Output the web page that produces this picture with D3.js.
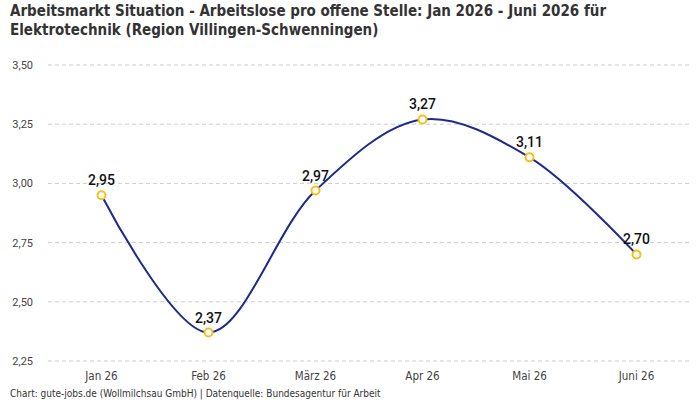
<!DOCTYPE html>
<html>
<head>
<meta charset="utf-8">
<script src="https://cdn.jsdelivr.net/npm/d3@7"></script>
<style>
  body { margin: 0; background: #fff; }
  svg { display: block; }
  .title { font-family: "DejaVu Sans Condensed", sans-serif; font-weight: bold; font-size: 15px; fill: #333; }
  .cond { font-family: "DejaVu Sans Condensed", sans-serif; }
</style>
</head>
<body>
<svg id="chart" width="700" height="400"></svg>
<script>
const months = ["Jan 26", "Feb 26", "März 26", "Apr 26", "Mai 26", "Juni 26"];
const values = [2.95, 2.37, 2.97, 3.27, 3.11, 2.70];
const yTicks = [2.25, 2.5, 2.75, 3.0, 3.25, 3.5];

const svg = d3.select("#chart");
const fmt = (v) => d3.format(".2f")(v).replace(".", ",");

svg.append("text").attr("class", "title").attr("x", 10).attr("y", 16)
  .text("Arbeitsmarkt Situation - Arbeitslose pro offene Stelle: Jan 2026 - Juni 2026 für");
svg.append("text").attr("class", "title").attr("x", 10).attr("y", 35)
  .text("Elektrotechnik (Region Villingen-Schwenningen)");

const x = d3.scaleBand().domain(months).range([48, 690]).padding(0);
const y = d3.scaleLinear().domain([2.25, 3.5]).range([361, 65]);

// grid
svg.append("g").selectAll("line").data(yTicks).enter().append("line")
  .attr("x1", 48).attr("x2", 690)
  .attr("y1", (d) => y(d)).attr("y2", (d) => y(d))
  .attr("stroke", "#ccc").attr("stroke-dasharray", "4,3");

svg.append("g").selectAll("text").data(yTicks).enter().append("text")
  .attr("x", 33).attr("y", (d) => y(d) + 4)
  .attr("text-anchor", "end")
  .style("font-family", "Roboto, sans-serif").style("font-size", "11px").attr("fill", "#444")
  .text(fmt);

svg.append("g").selectAll("text").data(months).enter().append("text")
  .attr("class", "cond")
  .attr("x", (d) => x(d) + x.bandwidth() / 2).attr("y", 380)
  .attr("text-anchor", "middle")
  .style("font-size", "11.5px").attr("fill", "#444")
  .text((d) => d);

const line = d3.line()
  .x((d, i) => x(months[i]) + x.bandwidth() / 2)
  .y((d) => y(d))
  .curve(d3.curveCatmullRom.alpha(0.5));

svg.append("path").datum(values).attr("d", line)
  .attr("fill", "none").attr("stroke", "#1d2b8c").attr("stroke-width", 2);

svg.append("g").selectAll("circle").data(values).enter().append("circle")
  .attr("cx", (d, i) => x(months[i]) + x.bandwidth() / 2)
  .attr("cy", (d) => y(d)).attr("r", 4)
  .attr("fill", "#fff").attr("stroke", "#f5c21b").attr("stroke-width", 2);

svg.append("g").selectAll("text").data(values).enter().append("text")
  .attr("x", (d, i) => x(months[i]) + x.bandwidth() / 2)
  .attr("y", (d) => y(d) - 10)
  .attr("text-anchor", "middle")
  .style("font-family", "Roboto, sans-serif").style("font-size", "14px").style("font-weight", 500)
  .attr("fill", "#111")
  .text(fmt);

svg.append("text").attr("class", "cond").attr("x", 10).attr("y", 397)
  .style("font-size", "10px").attr("fill", "#333")
  .text("Chart: gute-jobs.de (Wollmilchsau GmbH) | Datenquelle: Bundesagentur für Arbeit");
</script>
</body>
</html>
